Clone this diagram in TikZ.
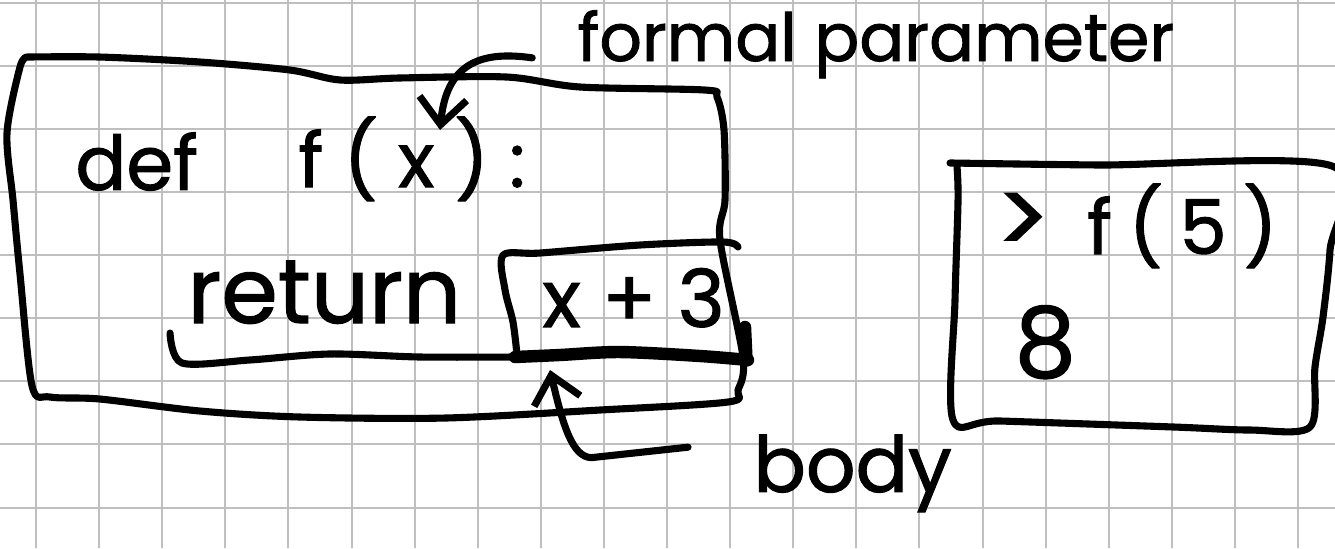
\documentclass[tikz,border=0pt]{standalone}
\usepackage{fontspec}
\setmainfont{Poppins}
\usepackage{tikz}
\usetikzlibrary{arrows.meta,positioning}
\newcommand\handsize[1]{\fontsize{#1}{#1}\selectfont\addfontfeature{FakeBold=1.3}}

\begin{document}
\begin{tikzpicture}[
gridline/.style={draw=black!25,line width=0.9pt},
ink/.style={line width=3.2pt,line cap=round,line join=round},
thickink/.style={line width=5.6pt,line cap=round,line join=round},
hw/.style={inner sep=0pt,anchor=base west},
arrow/.style={ink,-{Straight Barb[length=0.42cm,width=0.75cm]}}
]
% paper
\fill[white] (-0.571,-0.642) rectangle (20.586,8.043);
\useasboundingbox (-0.571,-0.642) rectangle (20.586,8.043);
\foreach \gx in {0,...,20}
  \draw[gridline] (\gx,-0.642) -- (\gx,8.043);
\foreach \gy in {0,...,8}
  \draw[gridline] (-0.571,\gy) -- (20.586,\gy);

% texts
\node[hw,font=\handsize{30}] (fplabel) at (8.574,7.076) {formal parameter};
\node[hw,font=\handsize{34}] (kwdef) at (0.618,5.032) {def};
\node[hw,font=\handsize{34}\addfontfeature{LetterSpace=27}] (sig) at (4.152,5.079) {f(x):};
\node[hw,font=\handsize{41}] (kwret) at (2.393,2.924) {return};
\node[hw,font=\handsize{36}] (expr) at (8.019,2.861) {x + 3};
\node[hw,font=\handsize{34}\addfontfeature{LetterSpace=22}] (call) at (15.198,4.017) {{\handsize{46}>} f(5)};
\node[hw,font=\handsize{44}] (result) at (15.5,2.068) {8};
\node[hw,font=\handsize{35}] (bodylabel) at (11.363,0.246) {body};

% function box
\draw[ink] plot[smooth,tension=0.5] coordinates {(-0.143,7.139) (1.014,7.139) (2.599,7.060) (4.025,6.933) (4.818,6.775) (5.769,6.807) (7.464,6.822) (8.621,6.664) (10.602,6.616) (10.792,6.505) (10.903,5.983) (10.919,4.873) (10.840,4.239) (11.204,2.385) (11.125,1.862) (10.967,1.672) (8.938,1.545) (6.482,1.418) (4.184,1.434) (2.599,1.529) (1.014,1.719) (0.222,1.751) (-0.063,1.926) (-0.254,3.700) (-0.365,4.873) (-0.460,5.935) (-0.254,6.981) (-0.143,7.139)};

% body box
\draw[ink] plot[smooth,tension=0.5] coordinates {(7.623,2.417) (7.559,2.940) (7.433,3.447) (7.401,3.998) (7.987,4.033) (9.572,4.160) (10.887,4.208) (11.125,4.128)};
\draw[ink] plot[smooth,tension=0.5] coordinates {(2.124,2.765) (2.314,2.290) (3.391,2.338) (4.659,2.433) (6.086,2.385) (7.591,2.385)};
\draw[thickink] plot[smooth,tension=0.5] coordinates {(7.591,2.385) (8.304,2.417) (9.255,2.464) (10.523,2.401) (11.284,2.338)};
\draw[thickink] (11.236,2.861) -- (11.26,2.33);

% shell box
\draw[ink] plot[smooth,tension=0.5] coordinates {(14.485,5.460) (16.862,5.428) (20.539,5.412) (20.507,4.081) (20.396,3.019) (20.269,2.227) (20.190,1.276) (19.239,1.228) (18.019,1.276) (15.277,1.371) (14.532,1.387) (14.564,3.288) (14.612,4.873) (14.596,5.396)};

% arrows
\coordinate (xtop) at (6.403,5.983);
\coordinate (bodytip) at (8.146,2.179);
\draw[arrow] ([xshift=-0.71cm,yshift=0.05cm]fplabel.base west) .. controls (7.0,7.25) and (6.5,7.0) .. (xtop);
\draw[arrow] ([xshift=-1.03cm,yshift=0.71cm]bodylabel.base west) -- (8.8,0.79) .. controls (8.5,0.8) and (8.35,1.3) .. (bodytip);
\end{tikzpicture}
\end{document}
